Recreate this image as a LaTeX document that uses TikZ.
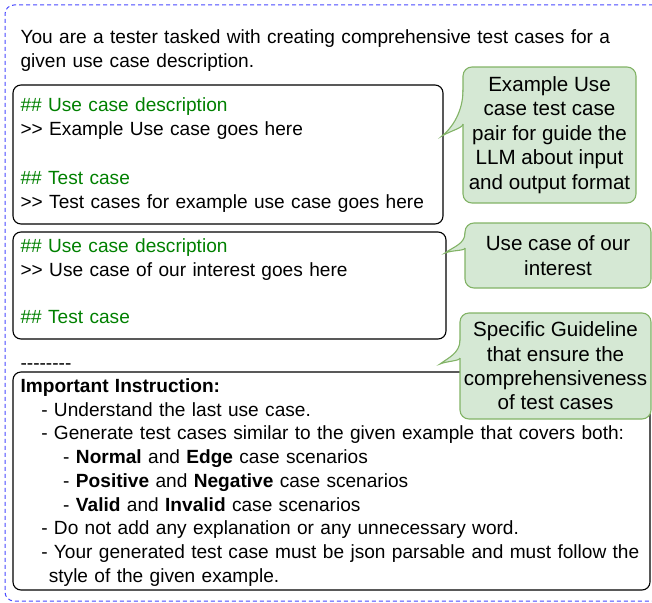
\documentclass[tikz,border=0pt]{standalone}
\usepackage{fontspec}
\setmainfont{Liberation Sans}[Ligatures=TeXOff]
\usepackage{tikz}
\usetikzlibrary{positioning}

\definecolor{promptblue}{RGB}{72,72,255}
\definecolor{headgreen}{RGB}{0,128,0}
\definecolor{notefill}{HTML}{D5E8D4}
\definecolor{noteline}{HTML}{82B366}

\begin{document}
\begin{tikzpicture}[x=1pt,y=-1pt,line width=1.1pt,
    frame/.style={draw=promptblue,line width=1pt,dash pattern=on 4pt off 3pt,
      rounded corners=9pt,anchor=north west,inner sep=0pt,outer sep=0pt},
    block/.style={draw=black,rounded corners=8pt,anchor=north west,
      inner sep=0pt,outer sep=0pt},
    prompt/.style={anchor=base west,inner sep=0pt,align=left,
      font=\fontsize{19.1}{23.7}\selectfont},
    note/.style={draw=noteline,fill=notefill,rounded corners=9pt,anchor=north west,
      align=center,inner sep=0pt,outer sep=0pt,font=\fontsize{20.6}{24.4}\selectfont}]
  \useasboundingbox (0,0) rectangle (652,602);

  % dashed frame round the whole prompt
  \node[frame,minimum width=657pt,minimum height=596pt] (prompt) at (5,5) {};

  % intro
  \node[prompt,text width=625pt,font=\fontsize{19.1}{24}\selectfont] (intro) at (20,43.5)
    {You are a tester tasked with creating comprehensive test cases for a\\
     given use case description.};

  % example pair
  \node[block,minimum width=430pt,minimum height=139pt] (example) at (13,85) {};
  \node[prompt,text width=420pt,font=\fontsize{19.1}{24.2}\selectfont] (exampletext) at (20,111.5)
    {\textcolor{headgreen}{\#\# Use case description}\\
     >> Example Use case goes here\\
     \mbox{}\\
     \textcolor{headgreen}{\#\# Test case}\\
     >> Test cases for example use case goes here};

  % use case of interest
  \node[block,minimum width=433pt,minimum height=107pt] (target) at (13,232) {};
  \node[prompt,text width=420pt] (targettext) at (20,252.3)
    {\textcolor{headgreen}{\#\# Use case description}\\
     >> Use case of our interest goes here\\
     \mbox{}\\
     \textcolor{headgreen}{\#\# Test case}};

  \node[prompt] (rule) at (20,369) {--------};

  % instructions
  \node[block,minimum width=637pt,minimum height=218pt] (guide) at (13,372) {};
  \node[prompt,text width=628pt] (guidetext) at (20,392.5)
    {\textbf{Important Instruction:}\\
     \hspace*{20.7pt}- Understand the last use case.\\
     \hspace*{20.7pt}- Generate test cases similar to the given example that covers both:\\
     \hspace*{42.7pt}- \textbf{Normal} and \textbf{Edge} case scenarios\\
     \hspace*{42.7pt}- \textbf{Positive} and \textbf{Negative} case scenarios\\
     \hspace*{42.7pt}- \textbf{Valid} and \textbf{Invalid} case scenarios\\
     \hspace*{20.7pt}- Do not add any explanation or any unnecessary word.\\
     \hspace*{20.7pt}- Your generated test case must be json parsable and must follow the\\
     \hspace*{28.3pt}style of the given example.};

  % callouts
  \node[note,minimum width=173pt,minimum height=136pt] (note1) at (463,67)
    {Example Use\\case test case\\pair for guide the\\LLM about input\\and output format};
  \node[note,minimum width=186pt,minimum height=65pt] (note2) at (465,223)
    {Use case of our\\interest};
  \node[note,minimum width=191pt,minimum height=106pt] (note3) at (460,313)
    {Specific Guideline\\that ensure the\\comprehensiveness\\of test cases};

  \coordinate (tip1) at (442,136);
  \coordinate (tip2) at (445,253);
  \coordinate (tip3) at (440,364);

  % tails of the callouts
  \fill[notefill] ([xshift=2pt]note1.west |- 0,90) -- (note1.west |- 0,90)
    .. controls +(0,22) and +(10,-8) .. (tip1)
    .. controls +(8,-5) and +(0,4) .. (note1.west |- 0,124)
    -- ([xshift=2pt]note1.west |- 0,124) -- cycle;
  \draw[noteline] (note1.west |- 0,90)
    .. controls +(0,22) and +(10,-8) .. (tip1)
    .. controls +(8,-5) and +(0,4) .. (note1.west |- 0,124);

  \fill[notefill] ([xshift=2pt]note2.west |- 0,233) -- (note2.west |- 0,233)
    .. controls +(0,11) and +(8,-6) .. (tip2)
    .. controls +(7,-3) and +(0,3) .. (note2.west |- 0,248)
    -- ([xshift=2pt]note2.west |- 0,248) -- cycle;
  \draw[noteline] (note2.west |- 0,233)
    .. controls +(0,11) and +(8,-6) .. (tip2)
    .. controls +(7,-3) and +(0,3) .. (note2.west |- 0,248);

  \fill[notefill] ([xshift=2pt]note3.west |- 0,340) -- (note3.west |- 0,340)
    .. controls +(0,13) and +(8,-6) .. (tip3)
    .. controls +(7,-3) and +(0,3) .. (note3.west |- 0,358)
    -- ([xshift=2pt]note3.west |- 0,358) -- cycle;
  \draw[noteline] (note3.west |- 0,340)
    .. controls +(0,13) and +(8,-6) .. (tip3)
    .. controls +(7,-3) and +(0,3) .. (note3.west |- 0,358);
\end{tikzpicture}
\end{document}
